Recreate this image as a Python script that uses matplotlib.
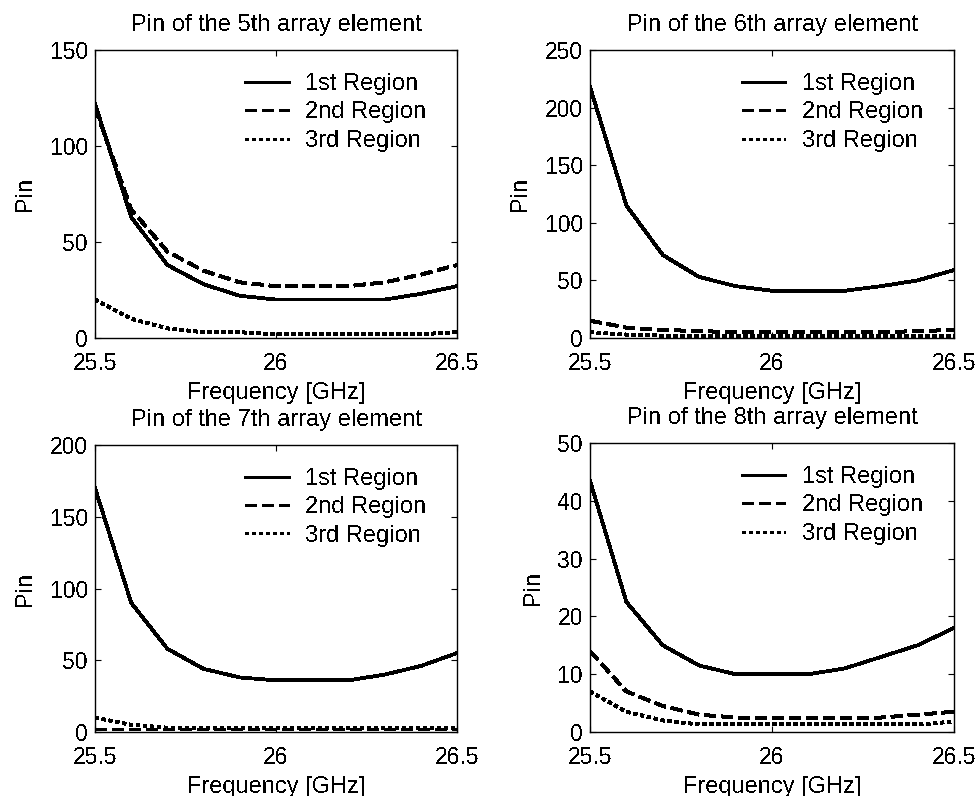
import matplotlib
matplotlib.use("Agg")
import matplotlib.pyplot as plt

plt.rcParams['font.family'] = ['Liberation Sans', 'DejaVu Sans']
plt.rcParams['text.antialiased'] = False
plt.rcParams['lines.antialiased'] = False

freq = [25.5, 25.6, 25.7, 25.8, 25.9, 26.0, 26.1, 26.2, 26.3, 26.4, 26.5]
labels = ["1st Region", "2nd Region", "3rd Region"]

# element 5
e5_r1 = [122, 63, 38, 28, 22, 20, 20, 20, 20, 23, 27]
e5_r2 = [120, 67, 45, 35, 29, 27, 27, 27, 29, 33, 38]
e5_r3 = [20, 10, 5, 3, 3, 2, 2, 2, 2, 2, 3]
# element 6
e6_r1 = [218, 115, 72, 53, 45, 41, 41, 41, 45, 50, 59]
e6_r2 = [15, 9, 7, 6, 5, 5, 5, 5, 5, 6, 7]
e6_r3 = [5, 3, 2, 2, 2, 2, 2, 2, 2, 2, 2]
# element 7
e7_r1 = [170, 90, 58, 44, 38, 36, 36, 36, 40, 46, 55]
e7_r2 = [2, 2, 2, 2, 2, 2, 2, 2, 2, 2, 2]
e7_r3 = [10, 5, 3, 3, 3, 3, 3, 3, 3, 3, 3]
# element 8
e8_r1 = [43.5, 22.5, 15, 11.5, 10, 10, 10, 11, 13, 15, 18]
e8_r2 = [14, 7, 4.5, 3, 2.5, 2.5, 2.5, 2.5, 2.5, 3, 3.5]
e8_r3 = [7, 3.5, 2, 1.3, 1.3, 1.3, 1.3, 1.3, 1.3, 1.3, 1.8]

panels = [
    ("Pin of the 5th array element", [e5_r1, e5_r2, e5_r3], 150, [0, 50, 100, 150]),
    ("Pin of the 6th array element", [e6_r1, e6_r2, e6_r3], 250, [0, 50, 100, 150, 200, 250]),
    ("Pin of the 7th array element", [e7_r1, e7_r2, e7_r3], 200, [0, 50, 100, 150, 200]),
    ("Pin of the 8th array element", [e8_r1, e8_r2, e8_r3], 50, [0, 10, 20, 30, 40, 50]),
]

# axes boxes in pixels (left, top, right, bottom)
W, H = 978, 796
boxes = [(95, 50, 457, 338), (590, 50, 954, 338),
         (95, 445, 457, 732), (590, 443, 954, 732)]
styles = [dict(ls="-", lw=2.0), dict(ls=(0, (4, 2)), lw=2.0), dict(ls=(0, (1.2, 1.3)), lw=2.0)]

fig = plt.figure(figsize=(W / 100, H / 100), dpi=100)
for (title, series, ymax, yt), (l, t, r, b) in zip(panels, boxes):
    ax = fig.add_axes([l / W, 1 - b / H, (r - l) / W, (b - t) / H])
    for s, lab, st in zip(series, labels, styles):
        ax.plot(freq, s, color="black", label=lab, **st)
    ax.set_xlim(25.5, 26.5)
    ax.set_ylim(0, ymax)
    ax.set_xticks([25.5, 26, 26.5])
    ax.set_xticklabels(["25.5", "26", "26.5"])
    ax.set_yticks(yt)
    ax.tick_params(direction="in", top=True, right=True, labelsize=16.5, length=4)
    ax.tick_params(axis="x", pad=10)
    ax.tick_params(axis="y", pad=5)
    for sp in ax.spines.values():
        sp.set_linewidth(1.0)
    ax.set_title(title, fontsize=17, pad=14)
    ax.set_xlabel("Frequency [GHz]", fontsize=17, labelpad=5)
    ax.set_ylabel("Pin", fontsize=17, labelpad=10)
    ax.legend(loc="upper right", bbox_to_anchor=(0.915, 0.92), frameon=False,
              fontsize=17, handlelength=1.85, handletextpad=0.7,
              labelspacing=0.27, borderpad=0, borderaxespad=0)

fig.savefig("out.png", dpi=100)
